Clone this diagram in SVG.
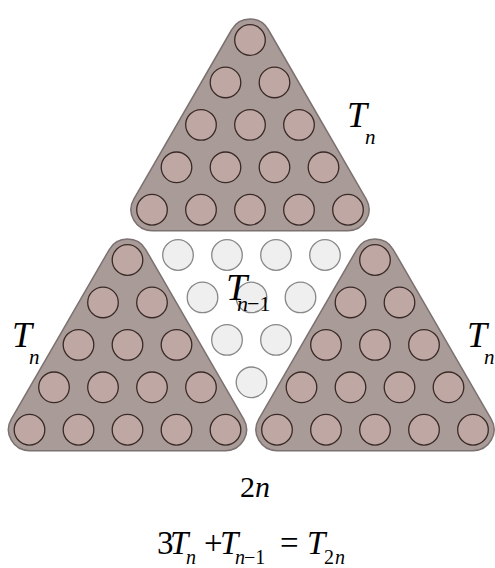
<svg xmlns="http://www.w3.org/2000/svg" width="495" height="568" viewBox="0 0 495 568">
<style>
.tri{fill:#a89b98;stroke:#7b7170;stroke-width:1.5}
.c{fill:#bfa8a3;stroke:#3a2a27;stroke-width:1.3}
.w{fill:#efefef;stroke:#888;stroke-width:1.3}
.lab{font-family:"Liberation Serif","Times New Roman",serif;fill:#000}
.it{font-style:italic}
</style>
<rect width="495" height="568" fill="#fff"/>
<g id="top-triangle">
<path class="tri" d="M231.81,29.5 L133.81,199.24 A21,21 0 0 0 152,230.74 L348,230.74 A21,21 0 0 0 366.19,199.24 L268.19,29.5 A21,21 0 0 0 231.81,29.5 Z"/>
<g class="c">
<circle cx="250" cy="40" r="15.3"/>
<circle cx="225.5" cy="82.44" r="15.3"/><circle cx="274.5" cy="82.44" r="15.3"/>
<circle cx="201" cy="124.87" r="15.3"/><circle cx="250" cy="124.87" r="15.3"/><circle cx="299" cy="124.87" r="15.3"/>
<circle cx="176.5" cy="167.31" r="15.3"/><circle cx="225.5" cy="167.31" r="15.3"/><circle cx="274.5" cy="167.31" r="15.3"/><circle cx="323.5" cy="167.31" r="15.3"/>
<circle cx="152" cy="209.74" r="15.3"/><circle cx="201" cy="209.74" r="15.3"/><circle cx="250" cy="209.74" r="15.3"/><circle cx="299" cy="209.74" r="15.3"/><circle cx="348" cy="209.74" r="15.3"/>
</g>
</g>
<g id="left-triangle">
<path class="tri" d="M109.31,249.5 L11.31,419.24 A21,21 0 0 0 29.5,450.74 L225.5,450.74 A21,21 0 0 0 243.69,419.24 L145.69,249.5 A21,21 0 0 0 109.31,249.5 Z"/>
<g class="c">
<circle cx="127.5" cy="260" r="15.3"/>
<circle cx="103" cy="302.44" r="15.3"/><circle cx="152" cy="302.44" r="15.3"/>
<circle cx="78.5" cy="344.87" r="15.3"/><circle cx="127.5" cy="344.87" r="15.3"/><circle cx="176.5" cy="344.87" r="15.3"/>
<circle cx="54" cy="387.31" r="15.3"/><circle cx="103" cy="387.31" r="15.3"/><circle cx="152" cy="387.31" r="15.3"/><circle cx="201" cy="387.31" r="15.3"/>
<circle cx="29.5" cy="429.74" r="15.3"/><circle cx="78.5" cy="429.74" r="15.3"/><circle cx="127.5" cy="429.74" r="15.3"/><circle cx="176.5" cy="429.74" r="15.3"/><circle cx="225.5" cy="429.74" r="15.3"/>
</g>
</g>
<g id="right-triangle">
<path class="tri" d="M356.81,249.5 L258.81,419.24 A21,21 0 0 0 277,450.74 L473,450.74 A21,21 0 0 0 491.19,419.24 L393.19,249.5 A21,21 0 0 0 356.81,249.5 Z"/>
<g class="c">
<circle cx="375" cy="260" r="15.3"/>
<circle cx="350.5" cy="302.44" r="15.3"/><circle cx="399.5" cy="302.44" r="15.3"/>
<circle cx="326" cy="344.87" r="15.3"/><circle cx="375" cy="344.87" r="15.3"/><circle cx="424" cy="344.87" r="15.3"/>
<circle cx="301.5" cy="387.31" r="15.3"/><circle cx="350.5" cy="387.31" r="15.3"/><circle cx="399.5" cy="387.31" r="15.3"/><circle cx="448.5" cy="387.31" r="15.3"/>
<circle cx="277" cy="429.74" r="15.3"/><circle cx="326" cy="429.74" r="15.3"/><circle cx="375" cy="429.74" r="15.3"/><circle cx="424" cy="429.74" r="15.3"/><circle cx="473" cy="429.74" r="15.3"/>
</g>
</g>
<g id="middle-triangle">
<g class="w">
<circle cx="178" cy="255" r="15.3"/><circle cx="227" cy="255" r="15.3"/><circle cx="276" cy="255" r="15.3"/><circle cx="325" cy="255" r="15.3"/>
<circle cx="202.5" cy="297.4" r="15.3"/><circle cx="251.5" cy="297.4" r="15.3"/><circle cx="300.5" cy="297.4" r="15.3"/>
<circle cx="227" cy="339.9" r="15.3"/><circle cx="276" cy="339.9" r="15.3"/>
<circle cx="251.5" cy="382.3" r="15.3"/>
</g>
</g>
<g id="connectors"/>
<g id="labels" class="lab">
<text font-size="36"><tspan class="it" x="347" y="127">T</tspan><tspan class="it" x="365" y="144" font-size="21">n</tspan></text>
<text font-size="36"><tspan class="it" x="12" y="347">T</tspan><tspan class="it" x="29" y="364" font-size="21">n</tspan></text>
<text font-size="36"><tspan class="it" x="467" y="347">T</tspan><tspan class="it" x="484" y="364" font-size="21">n</tspan></text>
<text font-size="38"><tspan class="it" x="226" y="300">T</tspan><tspan class="it" x="237" y="311" font-size="22">n</tspan><tspan x="247" y="311" font-size="22">−1</tspan></text>
<text font-size="30"><tspan x="240" y="497">2</tspan><tspan class="it" x="255" y="497">n</tspan></text>
<text font-size="33"><tspan x="157" y="554">3</tspan><tspan class="it" x="170" y="554">T</tspan><tspan class="it" x="186" y="564" font-size="20">n</tspan><tspan x="204" y="554">+</tspan><tspan class="it" x="220" y="554">T</tspan><tspan class="it" x="235" y="564" font-size="20">n</tspan><tspan x="244" y="564" font-size="20">−1</tspan><tspan x="280" y="554">=</tspan><tspan class="it" x="307" y="554">T</tspan><tspan x="324" y="564" font-size="20">2</tspan><tspan class="it" x="335" y="564" font-size="20">n</tspan></text>
</g>
</svg>
